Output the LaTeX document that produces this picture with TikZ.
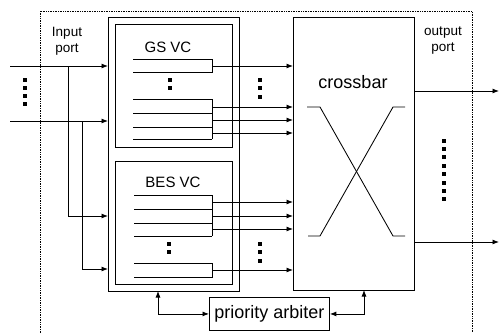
\documentclass[tikz,border=0pt]{standalone}
\usepackage{fontspec}
\setmainfont{Liberation Sans}
\usetikzlibrary{arrows.meta}
\tikzset{
  box/.style={
    draw,
    rectangle,
    line width=0.9pt,
    inner sep=0pt,
    anchor=north west
  },
  link/.style={
    line width=0.85pt,
    -{Latex[length=6.5pt, width=5pt]}
  },
  twolink/.style={
    line width=0.85pt,
    {Latex[length=6.5pt, width=5pt]}-{Latex[length=6.5pt, width=5pt]}
  },
  buf/.style={line width=0.9pt},
  frame/.style={line width=0.7pt, densely dotted},
  dot/.style={fill, draw=none, minimum size=3.2pt, inner sep=0pt, rectangle},
  lab/.style={align=center, font=\fontsize{13.5}{16}\selectfont, inner sep=0pt},
  vclab/.style={font=\fontsize{15}{17}\selectfont},
  biglab/.style={font=\fontsize{18}{20}\selectfont}
}

\begin{document}
\begin{tikzpicture}[x=1pt, y=-1pt]
\useasboundingbox (0,0) rectangle (499,333);

% outer router frame
\draw[frame] (40,333) |- (472,11) -- (472,333);

% blocks
\node[box, minimum width=131pt, minimum height=274pt] (vc) at (108,17) {};
\node[box, minimum width=117pt, minimum height=123pt] (gs) at (115,24) {};
\node[box, minimum width=117pt, minimum height=123pt] (bes) at (115,161) {};
\node[box, minimum width=121pt, minimum height=273pt] (xbar) at (293,17) {};
\node[box, biglab, minimum width=120pt, minimum height=33pt] (arb) at (209,297) {priority arbiter};

% labels
\node[lab] (inlab) at (67,41) {Input\\port};
\node[lab] (outlab) at (443,41) {output\\port};
\node[vclab] (gslab) at (168,47) {GS VC};
\node[vclab] (beslab) at (173,182) {BES VC};
\node[biglab] (xlab) at (353,82) {crossbar};

% buffers in GS VC
\draw[buf] (133,59) -| (212,72) -- (133,72);
\foreach \y in {99,113,127,139}
  \draw[buf] (133,\y) -- (212,\y);
\draw[buf] (212,99) -- (212,139);

% buffers in BES VC
\foreach \y in {195,209,223,236}
  \draw[buf] (134,\y) -- (212,\y);
\draw[buf] (212,195) -- (212,236);
\draw[buf] (134,263) -| (212,277) -- (134,277);

% buffer outputs
\coordinate (g1) at (212,66);
\coordinate (g2) at (212,107);
\coordinate (g3) at (212,120);
\coordinate (g4) at (212,133);
\coordinate (b1) at (212,202);
\coordinate (b2) at (212,216);
\coordinate (b3) at (212,229);
\coordinate (b4) at (212,270);
\foreach \c in {g1,g2,g3,g4,b1,b2,b3,b4}
  \draw[link] (\c) -- (\c -| xbar.west);

% inputs
\coordinate (in1) at (10,66);
\coordinate (in2) at (10,121);
\coordinate (br1) at (68,66);
\coordinate (br2) at (82,121);
\coordinate (bin1) at (108,216);
\coordinate (bin2) at (108,269);
\draw[link] (in1) -- (in1 -| vc.west);
\draw[link] (in2) -- (in2 -| vc.west);
\draw[link] (br1) |- (bin1);
\draw[link] (br2) |- (bin2);

% outputs
\coordinate (out1) at (499,91);
\coordinate (out2) at (499,242);
\draw[link] (out1 -| xbar.east) -- (out1);
\draw[link] (out2 -| xbar.east) -- (out2);

% crossbar switch
\draw[line width=0.85pt] (307,107) -- (320,107) -- (393,236) -- (405,236);
\draw[line width=0.85pt] (405,107) -- (393,107) -- (320,236) -- (308,236);

% arbiter links
\coordinate (avc) at (158,291);
\coordinate (axb) at (364,290);
\draw[twolink] (avc) |- (arb.west);
\draw[twolink] (arb.east) -| (axb);

% dots
\foreach \y in {80,88,96,104}
  \node[dot] at (25,\y) {};
\foreach \y in {80,88}
  \node[dot] at (170,\y) {};
\foreach \y in {80,88,97}
  \node[dot] at (260,\y) {};
\foreach \y in {244,252}
  \node[dot] at (169,\y) {};
\foreach \y in {244,252,261}
  \node[dot] at (260,\y) {};
\foreach \y in {141,149,157,166,174,183,191,199}
  \node[dot] at (444,\y) {};
\end{tikzpicture}
\end{document}
